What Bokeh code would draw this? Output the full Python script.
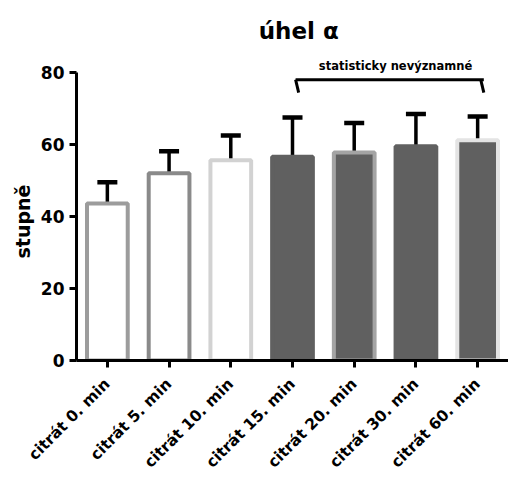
from math import pi

from bokeh.embed import file_html
from bokeh.models import (ColumnDataSource, FactorRange, FixedTicker, Label,
                          TeeHead, Title, Whisker)
from bokeh.plotting import figure
from bokeh.resources import INLINE
from bokeh.transform import dodge

# Mean angle and SD for each sampling time
categories = ["citrát 0. min", "citrát 5. min", "citrát 10. min", "citrát 15. min",
              "citrát 20. min", "citrát 30. min", "citrát 60. min"]
means = [43.6, 52.0, 55.6, 56.6, 57.8, 59.5, 61.2]
sds = [5.9, 6.1, 6.9, 10.9, 8.2, 9.0, 6.6]
y_ticks = [0, 20, 40, 60, 80]

fills = ["#ffffff", "#ffffff", "#ffffff", "#606060", "#606060", "#606060", "#606060"]
outlines = ["#9c9c9c", "#8a8a8a", "#d2d2d2", "#606060", "#a4a4a4", "#606060", "#e4e4e4"]

FONT = "DejaVu Sans"

src = ColumnDataSource(dict(
    cat=categories,
    mean=means,
    upper=[m + s for m, s in zip(means, sds)],
    fill=fills,
    line=outlines,
))

# y range runs past 80 so the title and bracket note sit inside the frame;
# the axis itself is bounded to 0..80
p = figure(width=508, height=481, x_range=FactorRange(factors=categories),
           y_range=(0, 100), output_backend="svg", toolbar_location=None,
           min_border_left=76, min_border_right=0, min_border_top=0,
           min_border_bottom=121)
p.outline_line_color = None
p.xgrid.grid_line_color = None
p.ygrid.grid_line_color = None

# Error bars (upper SD only)
whisk = Whisker(base="cat", lower="mean", upper="upper", source=src,
                line_color="black", line_width=3.5, lower_head=None,
                upper_head=TeeHead(size=20, line_color="black", line_width=4.5))
p.add_layout(whisk)

p.vbar(x="cat", top="mean", bottom=0, width=0.66, source=src,
       fill_color="fill", line_color="line", line_width=4)

# Bracket over the non-significant group
bsrc = ColumnDataSource(dict(x0=[categories[3], categories[3], categories[6]],
                             x1=[categories[6], categories[3], categories[6]],
                             y0=[78.0, 78.0, 78.0], y1=[78.0, 74.4, 74.4]))
p.segment(x0=dodge("x0", 0.05, range=p.x_range), x1=dodge("x1", 0.1, range=p.x_range),
          y0="y0", y1="y1", source=bsrc, line_color="black", line_width=3)
p.add_layout(Label(x=5.17, y=81.8, text="statisticky nevýznamné",
                   text_font=FONT, text_font_style="bold", text_font_size="11.5px",
                   text_color="black", text_align="center", text_baseline="middle"))

# Title
p.add_layout(Label(x=3.6, y=91.4, text="úhel α", text_font=FONT,
                   text_font_style="bold", text_font_size="23px", text_color="black",
                   text_align="center", text_baseline="middle"))

for ax in (p.xaxis[0], p.yaxis[0]):
    ax.axis_line_width = 3
    ax.axis_line_color = "black"
    ax.major_tick_line_width = 3
    ax.major_tick_line_color = "black"
    ax.major_tick_in = 0
    ax.major_tick_out = 7
    ax.minor_tick_line_color = None
    ax.major_label_text_font = FONT
    ax.major_label_text_font_style = "bold"
    ax.major_label_text_color = "black"

p.yaxis.bounds = (0, 80)
p.yaxis.ticker = FixedTicker(ticks=y_ticks)
p.yaxis.major_label_text_font_size = "17px"
p.yaxis.major_label_standoff = 5

# y-axis caption, centred on the 0..80 span of the axis
p.add_layout(Title(text="stupně", align="left", offset=102, standoff=8,
                   text_font=FONT, text_font_style="bold", text_font_size="19px",
                   text_color="black"), "left")

p.xaxis.major_label_orientation = pi / 4
p.xaxis.major_label_text_font_size = "15.5px"
p.xaxis.major_label_standoff = 14
p.x_range.range_padding = 0

open("out.html", "w").write(file_html(p, INLINE))
